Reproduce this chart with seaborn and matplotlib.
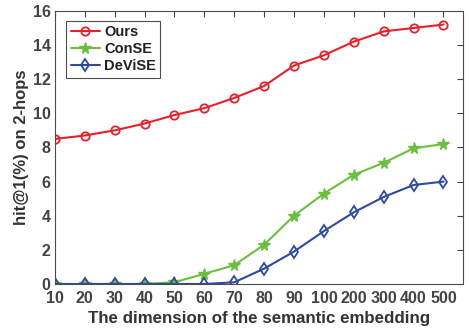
import numpy as np
import pandas as pd
import matplotlib
matplotlib.use("Agg")
import matplotlib.pyplot as plt
import seaborn as sns

dims = ["10", "20", "30", "40", "50", "60", "70", "80", "90", "100", "200", "300", "400", "500"]
ours = [8.5, 8.7, 9.0, 9.4, 9.9, 10.3, 10.9, 11.6, 12.8, 13.4, 14.2, 14.8, 15.0, 15.2]
conse = [0, 0, 0, 0, 0.1, 0.6, 1.1, 2.3, 4.0, 5.3, 6.4, 7.1, 7.95, 8.2]
devise = [0, 0, 0, 0, 0, 0, 0.1, 0.9, 1.9, 3.1, 4.2, 5.1, 5.8, 6.0]

sns.set_style("white")
plt.rcParams['font.family'] = ['Liberation Sans', 'DejaVu Sans']
plt.rcParams['font.weight'] = 'bold'

GRAY = "#4d4d4d"
styles = {
    "Ours":   dict(color="#e8202a", marker="o", mfc="none", ms=6, mew=1.3),
    "ConSE":  dict(color="#6abf3f", marker="*", mfc="#6abf3f", ms=8.5, mew=1.0),
    "DeViSE": dict(color="#2e4aa0", marker="d", mfc="none", ms=6, mew=1.3),
}

fig = plt.figure(figsize=(4.69, 3.31), dpi=100)
ax = fig.add_axes([0.117, 0.142, 0.870, 0.825])

x = np.arange(len(dims))
for name, vals in [("Ours", ours), ("ConSE", conse), ("DeViSE", devise)]:
    s = styles[name]
    sns.lineplot(x=x, y=vals, ax=ax, color=s["color"], marker=s["marker"],
                 markerfacecolor=s["mfc"], markeredgecolor=s["color"],
                 markersize=s["ms"], markeredgewidth=s["mew"], linewidth=1.5,
                 label=name)

ax.set_xlim(0, 13.65)
ax.set_ylim(0, 16)
ax.set_xticks(x)
ax.set_xticklabels(dims)
ax.set_yticks(np.arange(0, 17, 2))
ax.tick_params(axis="both", direction="in", length=4, width=0.8, colors="#444444",
               labelsize=11.5, top=True, right=True)
ax.tick_params(axis="x", pad=5)
ax.tick_params(axis="y", pad=3)
for lab in ax.get_xticklabels() + ax.get_yticklabels():
    lab.set_fontweight("bold")
for sp in ax.spines.values():
    sp.set_color(GRAY)
    sp.set_linewidth(0.8)

ax.set_xlabel("The dimension of the semantic embedding", fontsize=12.2,
              fontweight="bold", color="#333333", labelpad=4)
ax.set_ylabel("hit@1(%) on 2-hops", fontsize=12, fontweight="bold",
              color="#333333", labelpad=3)

leg = ax.legend(loc="upper left", bbox_to_anchor=(0.01, 0.99), fontsize=10.5,
                frameon=True, fancybox=False, handlelength=2.0,
                borderpad=0.3, labelspacing=0.2, handletextpad=0.3)
leg.get_frame().set_edgecolor("#222222")
leg.get_frame().set_linewidth(0.8)
for t in leg.get_texts():
    t.set_fontweight("bold")
    t.set_color("#222222")

fig.savefig("out.png", dpi=100)
